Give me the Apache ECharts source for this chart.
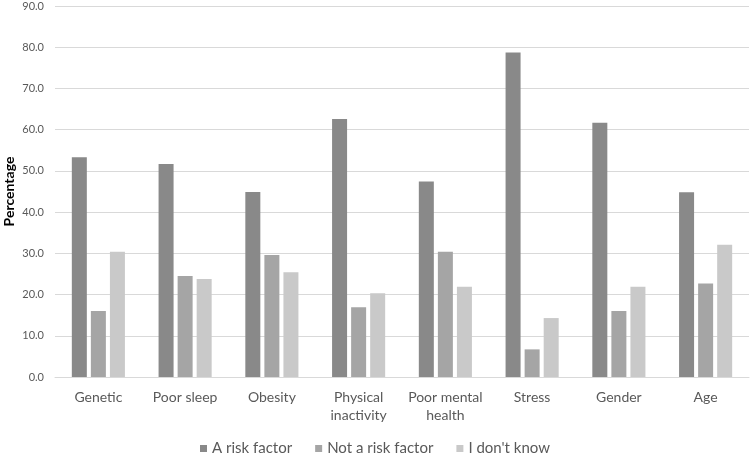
<!DOCTYPE html>
<html><head><meta charset="utf-8">
<script src="https://cdn.jsdelivr.net/npm/echarts@6/dist/echarts.min.js"></script>
<style>html,body{margin:0;padding:0;background:#fff}#c{width:750px;height:453px}</style>
</head><body><div id="c"></div>
<script>
var categories = ['Genetic', 'Poor sleep', 'Obesity', 'Physical\ninactivity', 'Poor mental\nhealth', 'Stress', 'Gender', 'Age'];
var riskFactor = [53.3, 51.7, 44.9, 62.6, 47.4, 78.7, 61.7, 44.8];
var notRiskFactor = [16.0, 24.5, 29.6, 16.9, 30.4, 6.7, 16.0, 22.7];
var dontKnow = [30.4, 23.8, 25.4, 20.3, 21.9, 14.3, 21.9, 32.1];
var seriesNames = ['A risk factor', 'Not a risk factor', "I don't know"];
var colors = ['#898989', '#a5a5a5', '#c9c9c9'];

var chart = echarts.init(document.getElementById('c'));
var font = 'Lato, "Open Sans", sans-serif';
function bar(name, data, color) {
  return { name: name, type: 'bar', data: data, barWidth: 15, barGap: '27%',
    itemStyle: { color: color }, silent: true };
}
chart.setOption({
  animation: false,
  textStyle: { fontFamily: font },
  color: colors,
  grid: { left: 55, right: 1, top: 6, bottom: 76, containLabel: false, outerBoundsMode: 'none' },
  legend: {
    bottom: -8, left: 'center', itemWidth: 7, itemHeight: 7, itemGap: 23,
    icon: 'rect',
    textStyle: { color: '#595959', fontSize: 15, fontFamily: font },
    data: seriesNames
  },
  xAxis: {
    type: 'category', data: categories,
    axisLine: { lineStyle: { color: '#d9d9d9' } },
    axisTick: { show: false },
    axisLabel: { color: '#595959', fontSize: 14, margin: 11, lineHeight: 18, interval: 0, fontFamily: font }
  },
  yAxis: {
    type: 'value', min: 0, max: 90, interval: 10,
    name: 'Percentage', nameLocation: 'middle', nameGap: 39, nameRotate: 90, nameMoveOverlap: false,
    nameTextStyle: { color: '#000', fontWeight: 'bold', fontSize: 14, fontFamily: font },
    axisLine: { show: false }, axisTick: { show: false },
    axisLabel: { color: '#595959', fontSize: 11, margin: 11, formatter: function (v) { return v.toFixed(1); }, fontFamily: font },
    splitLine: { lineStyle: { color: '#d9d9d9' } }
  },
  series: [
    bar(seriesNames[0], riskFactor, colors[0]),
    bar(seriesNames[1], notRiskFactor, colors[1]),
    bar(seriesNames[2], dontKnow, colors[2])
  ]
});
</script></body></html>
